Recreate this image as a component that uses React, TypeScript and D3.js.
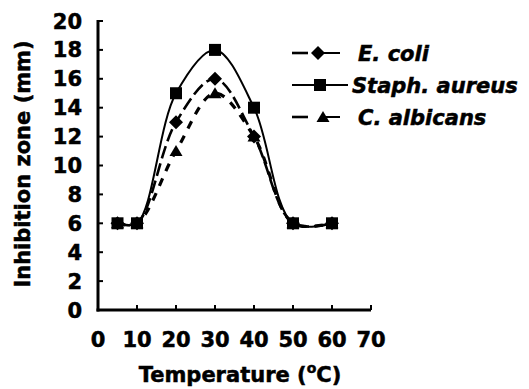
import * as d3 from "d3";

const temps = [5, 10, 20, 30, 40, 50, 60];
const eColi = [6, 6, 13, 16, 12, 6, 6];
const staphAureus = [6, 6, 15, 18, 14, 6, 6];
const cAlbicans = [6, 6, 11, 15, 12, 6, 6];
const xTicks = [0, 10, 20, 30, 40, 50, 60, 70];
const yTicks = [0, 2, 4, 6, 8, 10, 12, 14, 16, 18, 20];

type Shape = "diamond" | "square" | "triangle";

const series: { name: string; values: number[]; shape: Shape; dash: string; lw: number }[] = [
  { name: "E. coli", values: eColi, shape: "diamond", dash: "13,5", lw: 2.6 },
  { name: "Staph. aureus", values: staphAureus, shape: "square", dash: "none", lw: 2 },
  { name: "C. albicans", values: cAlbicans, shape: "triangle", dash: "8,8", lw: 3.2 },
];

const width = 529;
const height = 389;
const margin = { top: 21, right: 158, bottom: 79, left: 98 };
const font = "'DejaVu Sans', Verdana, sans-serif";

function Marker({ shape, x, y }: { shape: Shape; x: number; y: number }) {
  if (shape === "square") return <rect x={x - 6} y={y - 6} width={12} height={12} fill="#000" />;
  if (shape === "diamond")
    return <path d={`M${x},${y - 7}L${x + 7},${y}L${x},${y + 7}L${x - 7},${y}Z`} fill="#000" />;
  return <path d={`M${x},${y - 6}L${x + 6.5},${y + 5}L${x - 6.5},${y + 5}Z`} fill="#000" />;
}

// heavier text to match the scanned bold
const txt = { fontWeight: "bold", stroke: "#000", strokeWidth: 0.5 } as const;

export default function App() {
  const x = d3.scaleLinear().domain([0, 70]).range([margin.left, width - margin.right]);
  const y = d3.scaleLinear().domain([0, 20]).range([height - margin.bottom, margin.top]);

  const line = d3
    .line<number>()
    .x((_, i) => x(temps[i]))
    .y((d) => y(d))
    .curve(d3.curveCatmullRom.alpha(0.5));

  const x0 = x(0);
  const y0 = y(0);
  const legendX = 292;
  const legendY = [53, 85, 117];

  return (
    <div>
      <style>{`body{margin:0}`}</style>
      <svg width={width} height={height} style={{ display: "block", fontFamily: font }}>
        <rect width={width} height={height} fill="#fff" />

        {/* axes */}
        <line x1={x0} x2={x0} y1={y(20) - 1} y2={y0 + 1.5} stroke="#000" strokeWidth={3} />
        <line x1={x0 - 1.5} x2={x(70)} y1={y0} y2={y0} stroke="#000" strokeWidth={3} />
        {yTicks.map((t) => (
          <g key={`y${t}`}>
            <line x1={x0} x2={x0 + 5} y1={y(t)} y2={y(t)} stroke="#000" strokeWidth={2} />
            <text x={82} y={y(t) + 7.5} textAnchor="end" fontSize={21} {...txt}>
              {t}
            </text>
          </g>
        ))}
        {xTicks.map((t) => (
          <g key={`x${t}`}>
            {t > 0 && <line x1={x(t)} x2={x(t)} y1={y0} y2={y0 - 5} stroke="#000" strokeWidth={2} />}
            <text x={x(t)} y={347} textAnchor="middle" fontSize={21} {...txt}>
              {t}
            </text>
          </g>
        ))}

        {/* titles */}
        <text transform={`translate(30,164) rotate(-90)`} textAnchor="middle" fontSize={21} {...txt}>
          Inhibition zone (mm)
        </text>
        <text x={240} y={382} textAnchor="middle" fontSize={21} {...txt}>
          Temperature (
          <tspan fontSize={14} dy={-9}>
            o
          </tspan>
          <tspan dy={9}>C)</tspan>
        </text>

        {/* series */}
        {series.map((s) => (
          <g key={s.name}>
            <path
              d={line(s.values) ?? ""}
              fill="none"
              stroke="#000"
              strokeWidth={s.lw}
              strokeDasharray={s.dash}
            />
            {s.values.map((v, i) => (
              <Marker key={i} shape={s.shape} x={x(temps[i])} y={y(v)} />
            ))}
          </g>
        ))}

        {/* legend */}
        {series.map((s, i) => {
          const mx = legendX + [26, 28, 31][i];
          const end = i === 1 ? legendX + 56 : legendX + 48;
          return (
            <g key={`leg${i}`}>
              {i === 1 ? (
                <line x1={legendX} x2={end} y1={legendY[i]} y2={legendY[i]} stroke="#000" strokeWidth={2.2} />
              ) : (
                <>
                  <line x1={legendX} x2={legendX + 16} y1={legendY[i]} y2={legendY[i]} stroke="#000" strokeWidth={2.6} />
                  <line x1={mx} x2={end} y1={legendY[i]} y2={legendY[i]} stroke="#000" strokeWidth={2} />
                </>
              )}
              <Marker shape={s.shape} x={mx} y={legendY[i]} />
              <text
                x={i === 1 ? 352 : 358}
                y={legendY[i] + 7.5}
                fontSize={21}
                fontStyle="italic"
                {...txt}
              >
                {s.name}
              </text>
            </g>
          );
        })}
      </svg>
    </div>
  );
}
